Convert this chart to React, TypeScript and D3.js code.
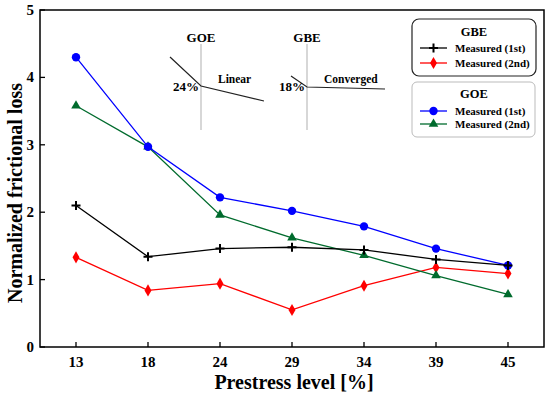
import React from "react";
import * as d3 from "d3";

const categories = ["13", "18", "24", "29", "34", "39", "45"];
const gbe1st = [2.1, 1.34, 1.46, 1.48, 1.44, 1.3, 1.21];
const gbe2nd = [1.33, 0.84, 0.94, 0.55, 0.91, 1.18, 1.09];
const goe1st = [4.3, 2.97, 2.22, 2.02, 1.79, 1.46, 1.21];
const goe2nd = [3.58, 2.97, 1.96, 1.62, 1.36, 1.06, 0.78];
const yTicks = [0, 1, 2, 3, 4, 5];

const W = 550, H = 396;
const M = { left: 40, right: 6, top: 10, bottom: 49 };
const FONT = "'Liberation Serif', 'Times New Roman', serif";

type Marker = "plus" | "diamond" | "circle" | "triangle";

function MarkerShape({ type, x, y, color }: { type: Marker; x: number; y: number; color: string }) {
  if (type === "plus") {
    return <path d={`M${x - 4.5},${y}H${x + 4.5}M${x},${y - 4.5}V${y + 4.5}`} stroke={color} strokeWidth={2} fill="none" />;
  }
  if (type === "circle") {
    return <circle cx={x} cy={y} r={4.2} fill={color} />;
  }
  const sym = type === "diamond" ? d3.symbolDiamond : d3.symbolTriangle;
  const size = type === "diamond" ? 42 : 40;
  const d = d3.symbol().type(sym).size(size)() as string;
  return <path d={d} transform={`translate(${x},${y})`} fill={color} />;
}

export default function App() {
  const x = d3.scalePoint<string>().domain(categories).range([M.left, W - M.right]).padding(0.5);
  const y = d3.scaleLinear().domain([0, 5]).range([H - M.bottom, M.top]);
  const line = d3
    .line<number>()
    .x((_, i) => x(categories[i]) as number)
    .y((v) => y(v));

  const series: { name: string; values: number[]; color: string; marker: Marker }[] = [
    { name: "GBE 2nd", values: gbe2nd, color: "#ff0000", marker: "diamond" },
    { name: "GOE 2nd", values: goe2nd, color: "#006b2d", marker: "triangle" },
    { name: "GOE 1st", values: goe1st, color: "#0000ff", marker: "circle" },
    { name: "GBE 1st", values: gbe1st, color: "#000000", marker: "plus" },
  ];

  const x0 = M.left, x1 = W - M.right, y0 = M.top, y1 = H - M.bottom;

  const legendItem = (ly: number, color: string, marker: Marker, label: string) => (
    <g>
      <line x1={420} x2={447} y1={ly} y2={ly} stroke={color} strokeWidth={1.3} />
      <MarkerShape type={marker} x={433.5} y={ly} color={color} />
      <text x={455} y={ly + 4} fontSize={11} fontWeight="bold" fontFamily={FONT}>{label}</text>
    </g>
  );

  return (
    <svg width={W} height={H} style={{ position: "absolute", left: 0, top: 0, background: "#fff" }}>
      {/* insets */}
      <g fontFamily={FONT} fontWeight="bold">
        <line x1={201} x2={201} y1={44} y2={130} stroke="#bdbdbd" strokeWidth={1.2} />
        <text x={201} y={42} textAnchor="middle" fontSize={13}>GOE</text>
        <polyline points="170,57 201,86 264,101" fill="none" stroke="#222" strokeWidth={1.2} />
        <text x={199} y={91} textAnchor="end" fontSize={13}>24%</text>
        <text x={218} y={83} fontSize={11.5}>Linear</text>

        <line x1={307} x2={307} y1={44} y2={130} stroke="#bdbdbd" strokeWidth={1.2} />
        <text x={307} y={42} textAnchor="middle" fontSize={13}>GBE</text>
        <polyline points="291,76 307,87 385,89" fill="none" stroke="#222" strokeWidth={1.2} />
        <text x={305} y={91} textAnchor="end" fontSize={13}>18%</text>
        <text x={324} y={83} fontSize={11.5}>Converged</text>
      </g>

      {/* series */}
      {series.map((s) => (
        <g key={s.name}>
          <path d={line(s.values) as string} fill="none" stroke={s.color} strokeWidth={1.3} />
          {s.values.map((v, i) => (
            <MarkerShape key={i} type={s.marker} x={x(categories[i]) as number} y={y(v)} color={s.color} />
          ))}
        </g>
      ))}

      {/* frame */}
      <rect x={x0} y={y0} width={x1 - x0} height={y1 - y0} fill="none" stroke="#000" strokeWidth={1.5} />

      {/* y ticks */}
      {yTicks.map((t) => (
        <g key={t}>
          <line x1={x0} x2={x0 + 5} y1={y(t)} y2={y(t)} stroke="#000" strokeWidth={1.3} />
          <text x={x0 - 6} y={y(t) + 5} textAnchor="end" fontSize={15} fontWeight="bold" fontFamily={FONT}>{t}</text>
        </g>
      ))}
      {/* x ticks */}
      {categories.map((c) => (
        <g key={c}>
          <line x1={x(c) as number} x2={x(c) as number} y1={y1} y2={y1 - 5} stroke="#000" strokeWidth={1.3} />
          <text x={x(c) as number} y={y1 + 20} textAnchor="middle" fontSize={15} fontWeight="bold" fontFamily={FONT}>{c}</text>
        </g>
      ))}

      <text x={(x0 + x1) / 2 + 2} y={389} textAnchor="middle" fontSize={20} fontWeight="bold" fontFamily={FONT}>Prestress level [%]</text>
      <text transform={`translate(22,193) rotate(-90)`} textAnchor="middle" fontSize={20} fontWeight="bold" fontFamily={FONT}>Normalized frictional loss</text>

      {/* legends */}
      <rect x={412} y={19} width={124} height={57} rx={7} fill="#fff" stroke="#222" strokeWidth={1.2} />
      <text x={474} y={36} textAnchor="middle" fontSize={12.5} fontWeight="bold" fontFamily={FONT}>GBE</text>
      {legendItem(48, "#000000", "plus", "Measured (1st)")}
      {legendItem(63, "#ff0000", "diamond", "Measured (2nd)")}

      <rect x={412} y={82} width={123} height={55} rx={5} fill="#fff" stroke="#bbb" strokeWidth={1} />
      <text x={474} y={98} textAnchor="middle" fontSize={12.5} fontWeight="bold" fontFamily={FONT}>GOE</text>
      {legendItem(111, "#0000ff", "circle", "Measured (1st)")}
      {legendItem(124, "#006b2d", "triangle", "Measured (2nd)")}
    </svg>
  );
}
